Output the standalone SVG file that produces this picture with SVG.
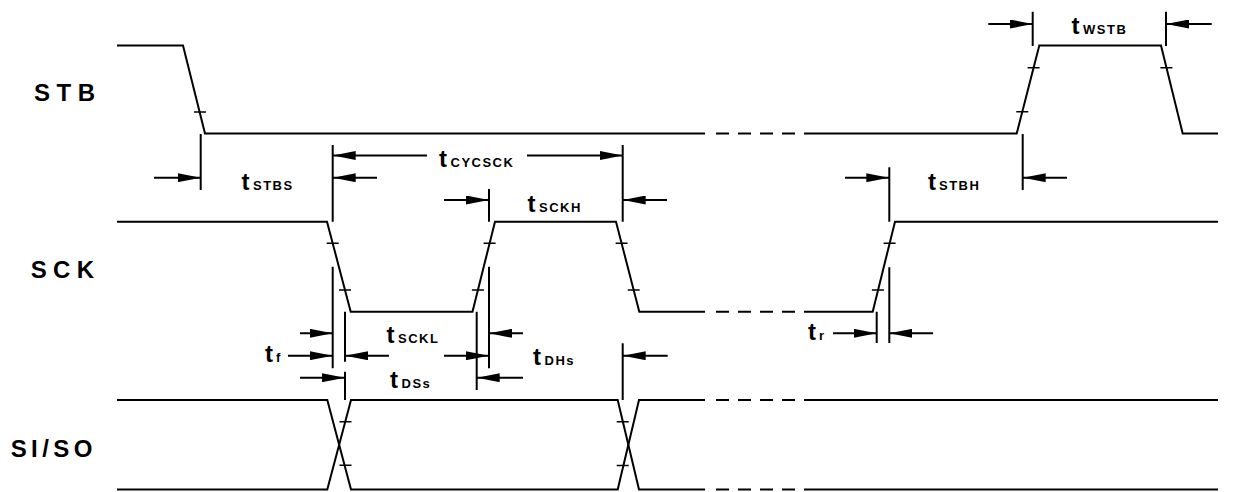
<svg xmlns="http://www.w3.org/2000/svg" width="1250" height="492" viewBox="0 0 1250 492">
<defs>
<marker id="ah" markerUnits="userSpaceOnUse" markerWidth="23" markerHeight="9" refX="23" refY="4.5" orient="auto">
<path d="M0,0 L23,4.5 L0,9 z" fill="#000"/>
</marker>
<style>
.w{fill:none;stroke:#000;stroke-width:2;stroke-linejoin:miter}
.d{fill:none;stroke:#000;stroke-width:2;stroke-dasharray:13 9}
.tk{stroke:#000;stroke-width:1.5}
.v{stroke:#000;stroke-width:2}
.a{stroke:#000;stroke-width:2;marker-end:url(#ah)}
.lbl{font-family:"Liberation Sans",Arial,sans-serif;font-weight:bold;font-size:24px;fill:#000}
.t{font-family:"Liberation Sans",Arial,sans-serif;font-weight:bold;font-size:24px;fill:#000}
.s{font-size:13px;letter-spacing:1.5px}
</style>
</defs>
<rect width="1250" height="492" fill="#fff"/>

<g id="labels">
<text class="lbl" x="34" y="100.5" letter-spacing="6.5">STB</text>
<text class="lbl" x="30.7" y="278.3" letter-spacing="6.3">SCK</text>
<text class="lbl" x="10.7" y="456.5" letter-spacing="4.4">SI/SO</text>
</g>

<g id="STB">
<path class="w" d="M117,45.5 H183 L205,133.5 H705"/>
<line class="d" x1="716" y1="133.5" x2="795" y2="133.5"/>
<path class="w" d="M804,133.5 H1016.7 L1039.3,45.5 H1161 L1182.7,133.5 H1218"/>
<path class="tk" d="M194,112 H206 M1016.3,111.7 H1028.3 M1027.6,67.7 H1039.6 M1160.4,67.7 H1172.4"/>
</g>

<g id="SCK">
<path class="w" d="M117,221.7 H327 L350.7,311.7 H472.5 L495,221.7 H616 L639.3,311.7 H705"/>
<line class="d" x1="716" y1="311.7" x2="795" y2="311.7"/>
<path class="w" d="M804,311.7 H872.7 L895,221.7 H1218"/>
<path class="tk" d="M326.7,243.3 H338.7 M339,290 H351 M471.9,290 H483.9 M483.6,243.3 H495.6 M615.6,243.3 H627.6 M627.7,290 H639.7 M871.9,290 H883.9 M883.6,243.3 H895.6"/>
</g>

<g id="SISO">
<path class="w" d="M117,400 H327.3 L351,489.5 H617.7 L639,400 H705"/>
<path class="w" d="M117,489.5 H327.3 L351,400 H617.7 L639,489.5 H705"/>
<line class="d" x1="716" y1="400" x2="795" y2="400"/>
<line class="d" x1="716" y1="489.5" x2="795" y2="489.5"/>
<path class="w" d="M804,400 H1218 M804,489.5 H1218"/>
<path class="tk" d="M339.5,421.7 H351.5 M339.5,465.3 H351.5 M616.7,421.7 H628.7 M616.7,465.5 H628.7"/>
</g>

<g id="connectors">
<path class="v" d="M200.7,134 V190 M332.7,145 V221.7 M622.7,145 V221.7 M489,189 V221.7 M332.7,266.7 V368.3 M345,311.7 V361.7 M345,371.7 V400 M476.7,311.7 V390 M489,266.7 V368.3 M622.7,343.3 V400 M889.3,167.3 V221.7 M1022.7,134 V190 M889.3,267.3 V343 M876.7,311.7 V343 M1032.7,11.7 V46 M1166,11.7 V46"/>
<line class="a" x1="154" y1="177.7" x2="200.7" y2="177.7"/>
<line class="a" x1="377" y1="177.7" x2="332.7" y2="177.7"/>
<line class="a" x1="427" y1="155.5" x2="332.7" y2="155.5"/>
<line class="a" x1="527" y1="155.5" x2="622.7" y2="155.5"/>
<line class="a" x1="444" y1="200" x2="489" y2="200"/>
<line class="a" x1="667" y1="200" x2="622.7" y2="200"/>
<line class="a" x1="300" y1="333.3" x2="332.7" y2="333.3"/>
<line class="a" x1="288" y1="355.7" x2="332.7" y2="355.7"/>
<line class="a" x1="389" y1="355.7" x2="345" y2="355.7"/>
<line class="a" x1="300" y1="377.7" x2="345" y2="377.7"/>
<line class="a" x1="523" y1="333.3" x2="489" y2="333.3"/>
<line class="a" x1="444" y1="355.7" x2="489" y2="355.7"/>
<line class="a" x1="523" y1="377.7" x2="476.7" y2="377.7"/>
<line class="a" x1="667.7" y1="355.7" x2="622.7" y2="355.7"/>
<line class="a" x1="845" y1="177.7" x2="889.3" y2="177.7"/>
<line class="a" x1="1067" y1="177.7" x2="1022.7" y2="177.7"/>
<line class="a" x1="833" y1="333.3" x2="876.7" y2="333.3"/>
<line class="a" x1="933" y1="333.3" x2="889.3" y2="333.3"/>
<line class="a" x1="988.3" y1="24" x2="1032.7" y2="24"/>
<line class="a" x1="1211.7" y1="24" x2="1166" y2="24"/>
</g>

<g id="timing-labels">
<text class="t" x="241.5" y="190">t<tspan class="s" dx="3.5">STBS</tspan></text>
<text class="t" x="439" y="167.3">t<tspan class="s" dx="3.5">CYCSCK</tspan></text>
<text class="t" x="527.5" y="211.7">t<tspan class="s" dx="3.5">SCKH</tspan></text>
<text class="t" x="386.5" y="343.3">t<tspan class="s" dx="3.5">SCKL</tspan></text>
<text class="t" x="390" y="388.3">t<tspan class="s" dx="3.5">DSs</tspan></text>
<text class="t" x="265" y="361.7">t<tspan class="s" dx="3">f</tspan></text>
<text class="t" x="533" y="365">t<tspan class="s" dx="3.5">DHs</tspan></text>
<text class="t" x="928" y="190">t<tspan class="s" dx="3">STBH</tspan></text>
<text class="t" x="1071.5" y="34">t<tspan class="s" dx="3.5">WSTB</tspan></text>
<text class="t" x="808" y="340">t<tspan class="s" dx="3">r</tspan></text>
</g>
</svg>
